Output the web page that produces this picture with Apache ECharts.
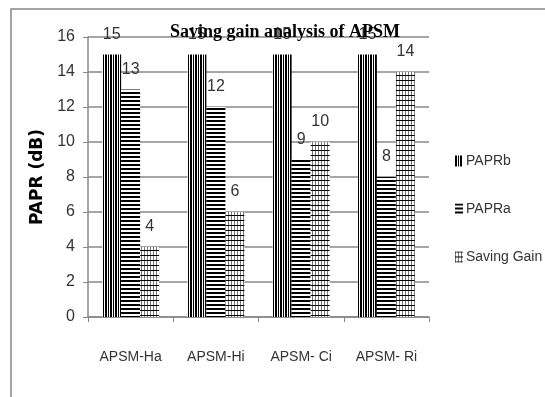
<!DOCTYPE html>
<html>
<head>
<meta charset="utf-8">
<script src="https://cdn.jsdelivr.net/npm/echarts@6/dist/echarts.min.js"></script>
<style>
  html, body { margin: 0; padding: 0; background: #fff; }
  #chart { width: 545px; height: 397px; }
</style>
</head>
<body>
<div id="chart"></div>
<script>
// Chart data
const categories = ['APSM-Ha', 'APSM-Hi', 'APSM- Ci', 'APSM- Ri'];
const seriesNames = ['PAPRb', 'PAPRa', 'Saving Gain'];
const paprBefore = [15, 15, 15, 15];
const paprAfter = [13, 12, 9, 8];
const savingGain = [4, 6, 10, 14];
const yTicks = [0, 2, 4, 6, 8, 10, 12, 14, 16];

// Build a small repeating monochrome tile used as a bar fill
function makeTile(w, h, painter) {
  const c = document.createElement('canvas');
  c.width = w; c.height = h;
  const ctx = c.getContext('2d');
  ctx.fillStyle = '#fff';
  ctx.fillRect(0, 0, w, h);
  painter(ctx);
  return { image: c, repeat: 'repeat' };
}

// vertical stripes
const vStripes = makeTile(5, 4, ctx => {
  ctx.fillStyle = '#000';
  ctx.fillRect(0, 0, 2, 4);
  ctx.fillRect(3, 0, 1, 4);
});
// horizontal stripes
const hStripes = makeTile(4, 4, ctx => {
  ctx.fillStyle = '#000';
  ctx.fillRect(0, 0, 4, 2);
});
// fine grid
const grid = makeTile(3, 5, ctx => {
  ctx.fillStyle = '#777';
  ctx.fillRect(0, 0, 1, 5);
  ctx.fillStyle = '#000';
  ctx.fillRect(0, 0, 3, 1);
});

const sans = '"Liberation Sans", Arial, sans-serif';
const labelStyle = {
  show: true,
  position: 'top',
  distance: 12,
  fontFamily: sans,
  fontSize: 16,
  color: '#333'
};

const chart = echarts.init(document.getElementById('chart'), null, { renderer: 'canvas' });

chart.setOption({
  animation: false,
  backgroundColor: '#fff',
  title: {
    text: 'Saving gain analysis of APSM',
    left: 280,
    textAlign: 'center',
    top: 18,
    textStyle: {
      fontFamily: '"Liberation Serif", serif',
      fontWeight: 'bold',
      fontSize: 18,
      color: '#000'
    }
  },
  legend: {
    orient: 'vertical',
    left: 450,
    top: 149,
    itemWidth: 8,
    itemHeight: 11,
    itemGap: 34,
    icon: 'rect',
    data: seriesNames,
    textStyle: { fontFamily: sans, fontSize: 14, color: '#333', padding: [0, 0, 0, -2] }
  },
  graphic: [{
    type: 'rect',
    shape: { x: 11, y: 9, width: 700, height: 500 },
    style: { fill: 'none', stroke: '#888', lineWidth: 1.5 },
    silent: true,
    z: -1
  }],
  grid: { left: 88, right: 116, top: 37, bottom: 80, containLabel: false },
  xAxis: {
    type: 'category',
    data: categories,
    axisLine: { lineStyle: { color: '#888', width: 1.5 } },
    axisTick: { show: true, length: 5, lineStyle: { color: '#888' } },
    axisLabel: { interval: 0, margin: 33, fontFamily: sans, fontSize: 14, color: '#333' }
  },
  yAxis: {
    type: 'value',
    min: yTicks[0],
    max: yTicks[yTicks.length - 1],
    interval: 2,
    name: 'PAPR (dB)',
    nameLocation: 'middle',
    nameGap: 38,
    nameTextStyle: {
      fontFamily: '"DejaVu Sans", sans-serif',
      fontWeight: 'bold',
      fontSize: 17,
      color: '#000'
    },
    axisLine: { show: true, lineStyle: { color: '#888', width: 1.5 } },
    axisTick: { show: true, length: 5, lineStyle: { color: '#888' } },
    axisLabel: { margin: 13, fontFamily: sans, fontSize: 16, color: '#333' },
    splitLine: { lineStyle: { color: '#888', width: 1.5 } }
  },
  series: [
    {
      name: seriesNames[0], type: 'bar', data: paprBefore,
      barWidth: 19, barGap: '0%',
      itemStyle: { color: vStripes },
      label: labelStyle
    },
    {
      name: seriesNames[1], type: 'bar', data: paprAfter,
      barWidth: 19, barGap: '0%',
      itemStyle: { color: hStripes },
      label: labelStyle
    },
    {
      name: seriesNames[2], type: 'bar', data: savingGain,
      barWidth: 19, barGap: '0%',
      itemStyle: { color: grid },
      label: labelStyle
    }
  ]
});
</script>
</body>
</html>
